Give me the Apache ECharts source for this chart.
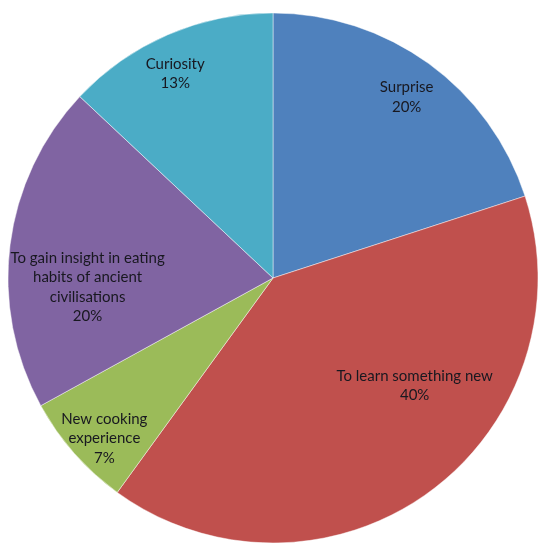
<!DOCTYPE html>
<html>
<head>
<meta charset="utf-8">
<script src="https://cdn.jsdelivr.net/npm/echarts@6/dist/echarts.min.js"></script>
<style>html,body{margin:0;padding:0;background:#fff;}#c{width:539px;height:545px;}</style>
</head>
<body>
<div id="c"></div>
<script>
const categories = ["Surprise", "To learn something new", "New cooking experience", "To gain insight in eating habits of ancient civilisations", "Curiosity"];
const labelTexts = ["Surprise", "To learn something new", "New cooking\nexperience", "To gain insight in eating\nhabits of ancient\ncivilisations", "Curiosity"];
const values = [20, 40, 7, 20, 13];
const colors = ["#4F81BD", "#C0504D", "#9BBB59", "#8064A2", "#4BACC6"];
const labelShift = [[54, -71], [62, -2], [-67, 71], [-51, 26], [-44, -80]];

const chart = echarts.init(document.getElementById('c'));
chart.setOption({
  animation: false,
  series: [{
    type: 'pie',
    center: [273, 278],
    radius: [0, 265],
    startAngle: 90,
    clockwise: true,
    data: categories.map((c, i) => ({
      name: c,
      value: values[i],
      itemStyle: { color: colors[i] },
      label: { formatter: labelTexts[i] + '\n' + values[i] + '%' }
    })),
    itemStyle: { borderColor: 'rgba(255,255,255,0.45)', borderWidth: 1 },
    label: {
      show: true,
      position: 'inside',
      color: '#181820',
      fontFamily: 'Lato',
      fontSize: 15,
      lineHeight: 19.5,
      align: 'center'
    },
    labelLine: { show: false },
    labelLayout: function (p) {
      const s = labelShift[p.dataIndex];
      return { dx: s[0], dy: s[1] };
    },
    emphasis: { disabled: true }
  }]
});
</script>
</body>
</html>
